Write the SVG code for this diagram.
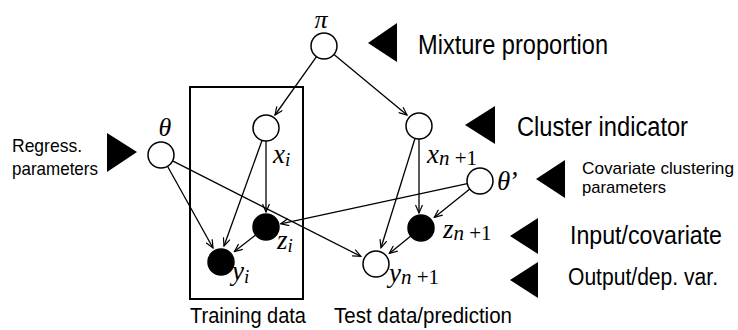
<svg xmlns="http://www.w3.org/2000/svg" width="738" height="330" viewBox="0 0 738 330">
<defs>
<marker id="arr" markerWidth="10" markerHeight="8" refX="9" refY="4" orient="auto" markerUnits="userSpaceOnUse">
<path d="M1,0.5 L9,4 L1,7.5" fill="none" stroke="#000" stroke-width="1.2"/>
</marker>
<style>
.n{fill:#fff;stroke:#000;stroke-width:1.5}
.f{fill:#000;stroke:#000;stroke-width:1.5}
.e{stroke:#000;stroke-width:1.3;fill:none;marker-end:url(#arr)}
.m{font-family:"Liberation Serif","Times New Roman",serif;font-style:italic;fill:#000}
.s{font-family:"Liberation Serif","Times New Roman",serif;font-style:normal;fill:#000}
.t{font-family:"Liberation Sans",Arial,sans-serif;fill:#000}
.tri{fill:#000}
</style>
</defs>
<rect width="738" height="330" fill="#fff"/>

<g id="plate">
<rect x="190" y="87" width="113" height="212" fill="none" stroke="#000" stroke-width="2"/>
<text class="t" x="190" y="323" font-size="22" textLength="116" lengthAdjust="spacingAndGlyphs">Training data</text>
</g>
<text class="t" x="334" y="323" font-size="22" textLength="178" lengthAdjust="spacingAndGlyphs">Test data/prediction</text>

<g id="connectors">
<line class="e" x1="316.5" y1="56.6" x2="275" y2="115"/>
<line class="e" x1="334" y1="54.4" x2="407" y2="115"/>
<line class="e" x1="266" y1="141" x2="266" y2="212"/>
<line class="e" x1="262" y1="140.5" x2="224" y2="246"/>
<line class="e" x1="167.5" y1="166.3" x2="213" y2="248"/>
<line class="e" x1="172.6" y1="160.9" x2="360.8" y2="256.3"/>
<line class="e" x1="467.3" y1="183.7" x2="280.7" y2="223.8"/>
<line class="e" x1="469.8" y1="189.1" x2="434.3" y2="217.4"/>
<line class="e" x1="419" y1="139" x2="419" y2="213"/>
<line class="e" x1="415" y1="138.5" x2="381" y2="247.8"/>
<line class="e" x1="255.7" y1="235" x2="234.4" y2="251.6"/>
<line class="e" x1="410.8" y1="236.1" x2="389.3" y2="253.4"/>
</g>

<g id="pi">
<circle class="n" cx="324" cy="46" r="13"/>
<text class="m" x="321" y="28" font-size="26" text-anchor="middle">π</text>
</g>
<g id="theta">
<circle class="n" cx="161" cy="155" r="13"/>
<text class="m" x="165" y="136" font-size="26" text-anchor="middle">θ</text>
</g>
<g id="xi">
<circle class="n" cx="266" cy="128" r="13"/>
<text class="m" x="273" y="163" font-size="27">x<tspan font-size="19" dy="3">i</tspan></text>
</g>
<g id="xn1">
<circle class="n" cx="419" cy="126" r="13"/>
<text class="m" x="427" y="163" font-size="27">x<tspan font-size="21" dy="2">n</tspan><tspan class="s" font-size="21"> +1</tspan></text>
</g>
<g id="thetap">
<circle class="n" cx="480" cy="181" r="13"/>
<text class="m" x="497" y="190" font-size="27">θ<tspan class="s">’</tspan></text>
</g>
<g id="zi">
<circle class="f" cx="266" cy="227" r="13"/>
<text class="m" x="277" y="249" font-size="27">z<tspan font-size="19" dy="3">i</tspan></text>
</g>
<g id="zn1">
<circle class="f" cx="421" cy="228" r="13"/>
<text class="m" x="443" y="238" font-size="27">z<tspan font-size="21" dy="2">n</tspan><tspan class="s" font-size="21"> +1</tspan></text>
</g>
<g id="yi">
<circle class="f" cx="221" cy="262" r="13"/>
<text class="m" x="232" y="280" font-size="27">y<tspan font-size="19" dy="3">i</tspan></text>
</g>
<g id="yn1">
<circle class="n" cx="376" cy="264" r="13"/>
<text class="m" x="389" y="282" font-size="27">y<tspan font-size="21" dy="2">n</tspan><tspan class="s" font-size="21"> +1</tspan></text>
</g>

<g id="legend-mixture">
<polygon class="tri" points="368,43 397,23 397,62"/>
<text class="t" x="418" y="54" font-size="27" textLength="190" lengthAdjust="spacingAndGlyphs">Mixture proportion</text>
</g>
<g id="legend-cluster">
<polygon class="tri" points="465,125 495,106 495,144"/>
<text class="t" x="517" y="136" font-size="27" textLength="171" lengthAdjust="spacingAndGlyphs">Cluster indicator</text>
</g>
<g id="legend-covclust">
<polygon class="tri" points="536,179 565,160 565,198"/>
<text class="t" x="582" y="174" font-size="17" textLength="152" lengthAdjust="spacingAndGlyphs">Covariate clustering</text>
<text class="t" x="582" y="193" font-size="17" textLength="84" lengthAdjust="spacingAndGlyphs">parameters</text>
</g>
<g id="legend-input">
<polygon class="tri" points="510,236 538,218 538,254"/>
<text class="t" x="570" y="244" font-size="25" textLength="152" lengthAdjust="spacingAndGlyphs">Input/covariate</text>
</g>
<g id="legend-output">
<polygon class="tri" points="510,280 538,262 538,298"/>
<text class="t" x="568" y="285" font-size="23" textLength="150" lengthAdjust="spacingAndGlyphs">Output/dep. var.</text>
</g>
<g id="legend-regress">
<polygon class="tri" points="137,152 107,133 107,172"/>
<text class="t" x="12" y="152" font-size="19" textLength="70" lengthAdjust="spacingAndGlyphs">Regress.</text>
<text class="t" x="12" y="175" font-size="19" textLength="86" lengthAdjust="spacingAndGlyphs">parameters</text>
</g>
</svg>
